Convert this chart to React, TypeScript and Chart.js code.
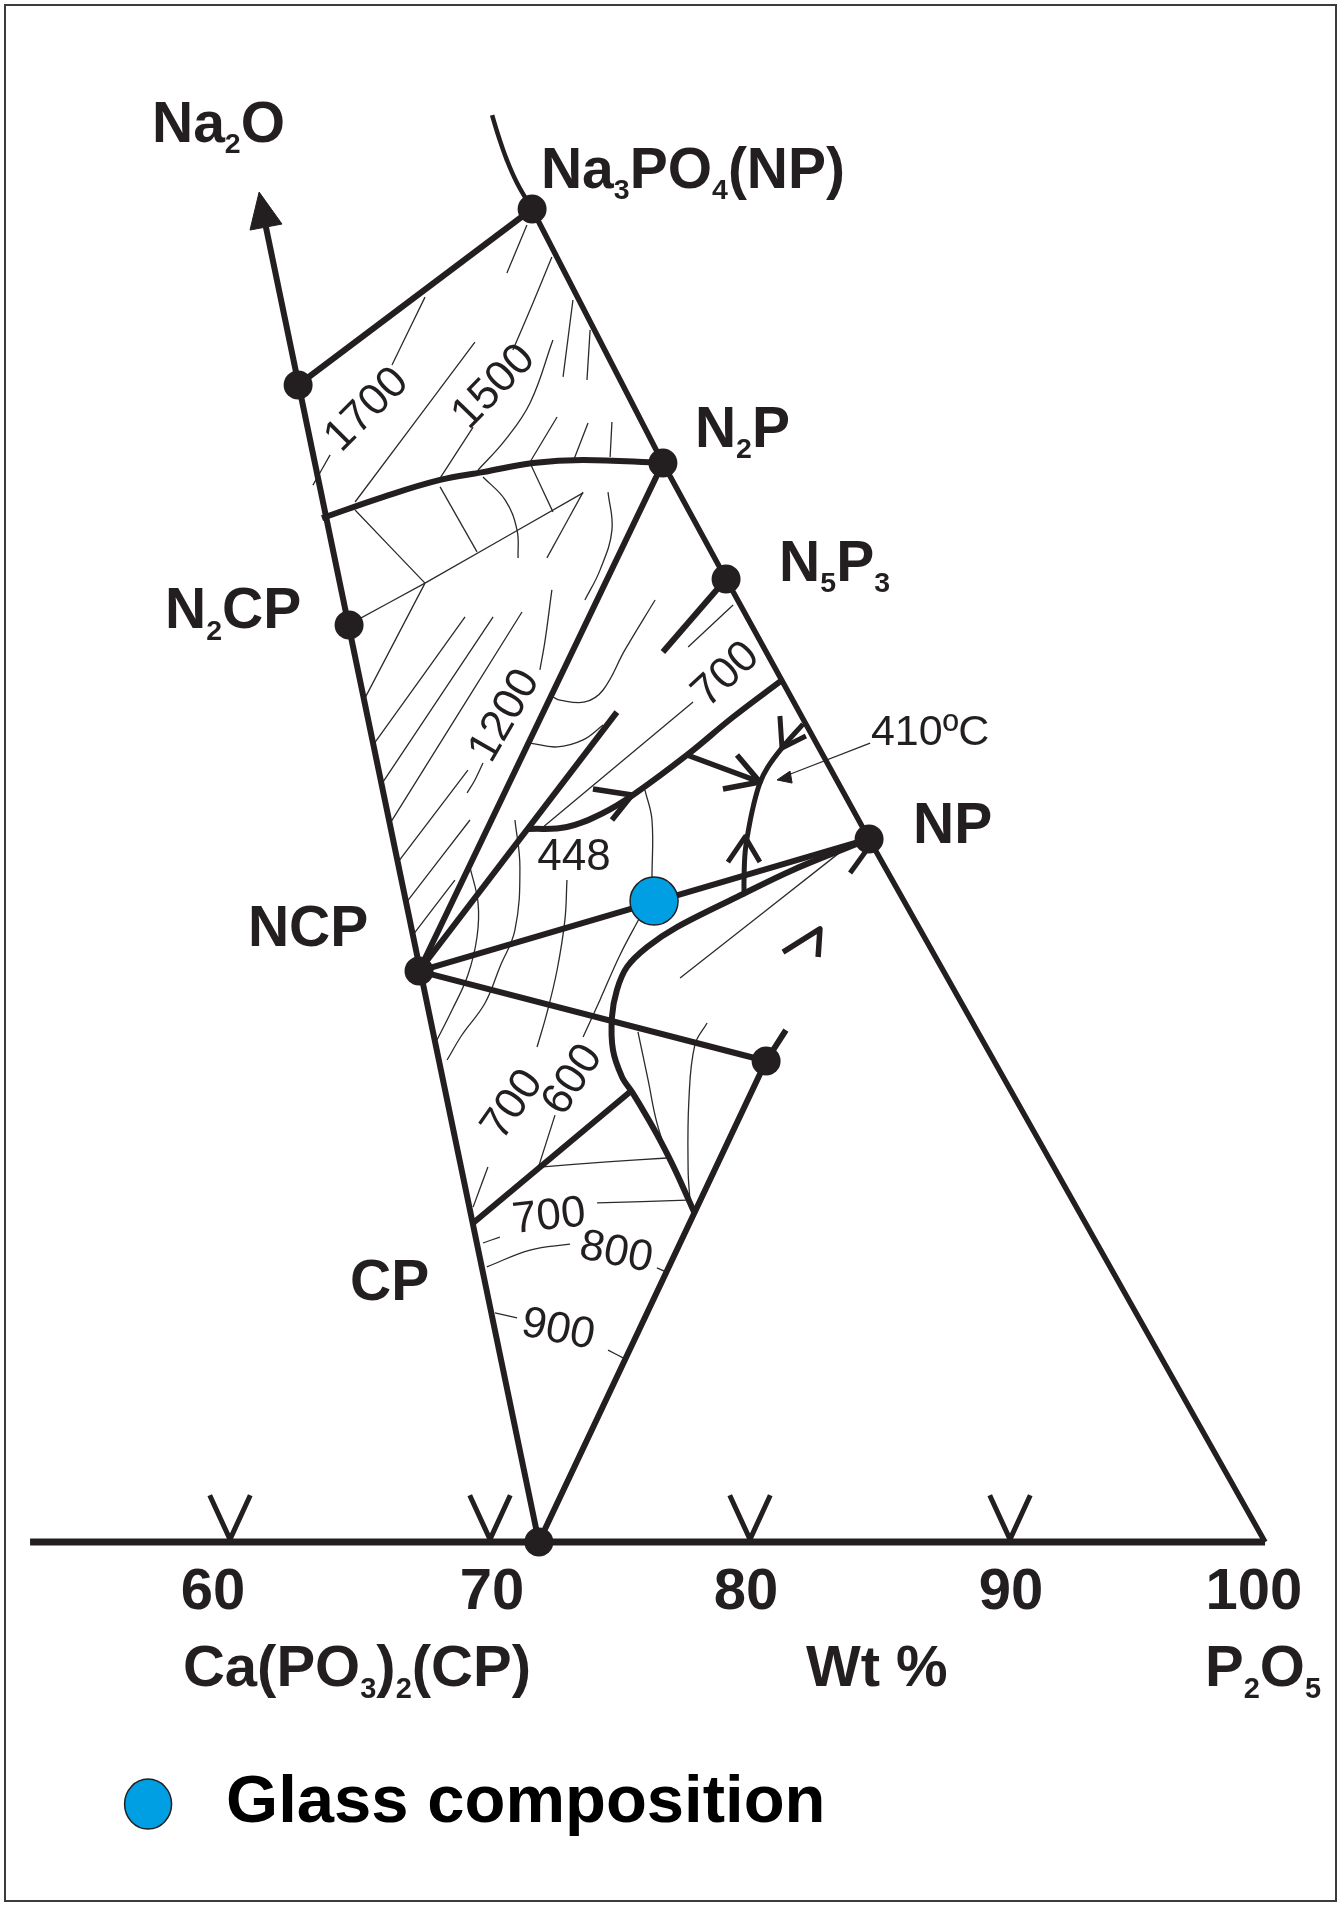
import React, { useEffect, useRef } from "react";
import { Chart, registerables } from "chart.js";

Chart.register(...registerables);

type P = [number, number];

const INK = "#231f20";
const THIN = "#2b2b2b";
const GLASS_BLUE = "#009fe3";
const FONT = '"Liberation Sans", Arial, Helvetica, sans-serif';

// ---- bottom axis: wt % P2O5 ----
const xTicks = [60, 70, 80, 90];
const xTickLabels = ["60", "70", "80", "90", "100"];
const xTickLabelAt = [59.35, 70.08, 79.85, 90.04, 99.38];
const baseLine: P[] = [[52.31, 0], [99.81, 0]];

// ---- compounds (x: wt% P2O5, y: Na2O direction) ----
const compoundPoints: P[] = [
  [71.62, 51.27], // Na3PO4
  [62.62, 44.5],
  [76.65, 41.5], // N2P
  [79.08, 37.04], // N5P3
  [64.58, 35.27], // N2CP
  [67.27, 21.96], // NCP
  [84.58, 27.04], // NP
  [80.62, 18.5],
  [71.88, 0], // CP
];
const glassComposition: P[] = [[76.31, 24.65]];

// ---- thick boundaries ----
const sodaAxis: P[] = [[71.88, 0], [61.38, 50.58]];
const sodaArrow: P[] = [[61.12, 51.92], [62.0, 50.69], [60.77, 50.46], [61.12, 51.92]];
const orthoTie: P[] = [[71.62, 51.27], [62.62, 44.5]];
const orthoLiquidus: P[] = [[70.08, 54.88], [70.35, 54.0], [70.65, 53.15], [71.04, 52.27], [71.62, 51.27]];
const binaryEdge: P[] = [[71.62, 51.27], [76.65, 41.5], [79.08, 37.04], [84.58, 27.04], [99.81, 0]];
const n2pBoundary: P[] = [[76.65, 41.5], [73.58, 41.62], [71.65, 41.5], [69.73, 41.15], [68.08, 40.85], [65.88, 40.19], [63.54, 39.38]];
const n2pNcpJoin: P[] = [[76.65, 41.5], [67.27, 21.96]];
const ncpSpur: P[] = [[67.27, 21.96], [74.88, 31.92]];
const ncpNpJoin: P[] = [[67.27, 21.96], [84.58, 27.04]];
const ncpDJoin: P[] = [[67.27, 21.96], [80.62, 18.5]];
const cpDJoin: P[] = [[71.88, 0], [80.62, 18.5], [81.38, 19.69]];
const eutectic448: P[] = [[71.46, 27.42], [72.96, 27.5], [74.35, 28.04], [75.5, 28.73], [77.58, 30.27], [79.35, 31.73], [81.19, 33.12]];
const arrow448: P[] = [[73.96, 28.96], [75.46, 28.73], [74.69, 27.77]];
const branch448: P[] = [[77.58, 30.27], [80.38, 29.23]];
const arrowBranch: P[] = [[79.5, 30.27], [80.38, 29.23], [78.96, 28.96]];
const curve410: P[] = [[82.04, 31.46], [81.23, 30.54], [80.69, 29.81], [80.38, 29.19], [80.12, 28.27], [79.92, 27.27], [79.81, 26.5], [79.77, 25.46], [79.77, 24.96]];
const arrow410Top: P[] = [[81.15, 31.77], [81.23, 30.54], [82.15, 31.0]];
const arrow410Up: P[] = [[79.15, 26.15], [79.81, 27.12], [80.38, 26.15]];
const sBoundary: P[] = [[84.58, 27.04], [81.65, 25.85], [79.5, 24.81], [77.19, 23.65], [76.04, 22.88], [75.27, 22.12], [74.88, 21.23], [74.69, 20.19], [74.73, 18.92], [75.08, 17.88], [75.46, 17.31], [76.04, 16.35], [76.54, 15.46], [77.12, 14.31], [77.85, 12.69]];
const npTick: P[] = [[83.85, 25.73], [84.46, 26.58]];
const chevronLone: P[] = [[81.27, 22.69], [82.69, 23.58], [82.62, 22.5]];
const cpBoundary: P[] = [[69.35, 12.27], [75.38, 17.31]];
const n5p3Spur: P[] = [[79.08, 37.04], [76.65, 34.23]];
const pointer410: P[] = [[84.62, 30.73], [81.46, 29.5]];
const pointerHead: P[] = [[81.04, 29.31], [81.54, 29.65], [81.62, 29.19], [81.04, 29.31]];

// ---- thin isotherms ----
const isothermsUpper: P[][] = [
  [[70.65, 48.81], [71.42, 50.65]],
  [[66.23, 45.27], [67.5, 47.88]],
  [[63.19, 40.65], [63.85, 41.81]],
  [[64.81, 40.0], [69.42, 46.15]],
  [[68.08, 40.92], [69.35, 42.88]],
  [[70.88, 45.85], [71.62, 47.58], [72.38, 49.42]],
  [[69.54, 41.23], [70.58, 42.38], [71.54, 43.81], [72.42, 46.23]],
  [[71.54, 41.54], [72.58, 43.27]],
  [[72.81, 44.81], [73.19, 47.77]],
  [[73.73, 44.69], [73.85, 46.62]],
  [[73.19, 41.54], [73.77, 43.04]],
  [[74.62, 41.73], [74.69, 43.08]],
];
const isothermsN2CP: P[][] = [
  [[64.81, 39.69], [67.5, 36.88]],
  [[67.5, 36.88], [64.69, 35.35]],
  [[67.5, 36.88], [73.58, 40.35]],
  [[68.08, 40.58], [69.5, 38.08]],
  [[69.73, 40.96], [70.58, 40.08], [71.04, 38.92], [71.08, 37.85]],
  [[71.54, 41.5], [72.42, 39.62]],
  [[73.58, 40.38], [72.19, 37.85]],
  [[74.54, 40.38], [74.69, 38.92], [74.23, 37.38], [73.65, 36.23]],
  [[72.38, 36.62], [72.12, 34.69], [71.92, 33.54]],
  [[69.73, 29.96], [69.42, 29.31], [69.12, 28.81]],
  [[67.5, 36.88], [65.15, 32.38]],
  [[69.04, 35.58], [65.5, 30.65]],
  [[70.12, 35.58], [65.81, 29.12]],
  [[71.23, 35.77], [66.12, 27.58]],
  [[69.15, 29.69], [66.46, 26.15]],
  [[69.23, 27.77], [66.77, 24.58]],
  [[68.65, 25.46], [67.04, 23.35]],
];
const isothermsMiddle: P[][] = [
  [[69.23, 25.96], [69.54, 24.58], [69.5, 23.27], [69.15, 21.81], [68.54, 20.46], [67.96, 19.31]],
  [[70.96, 27.77], [71.15, 25.96], [70.96, 23.54], [70.38, 22.12], [69.81, 20.73], [68.92, 19.5], [68.35, 18.54]],
  [[72.96, 25.46], [72.88, 23.92], [72.58, 22.0], [72.19, 20.35], [71.81, 19.04]],
  [[69.92, 14.42], [69.35, 12.88]],
  [[75.77, 24.04], [75.0, 22.58], [74.23, 20.85], [73.58, 19.42]],
  [[72.5, 16.42], [71.85, 14.38]],
  [[75.96, 28.92], [76.23, 27.77], [76.23, 25.54]],
  [[77.81, 32.31], [72.0, 27.46]],
  [[79.35, 36.04], [77.62, 34.42]],
  [[76.35, 36.23], [75.19, 34.31], [74.35, 32.77], [73.65, 32.31], [72.69, 32.38], [72.42, 32.5]],
  [[74.35, 31.42], [73.58, 30.85], [72.58, 30.58], [71.54, 30.73]],
  [[83.58, 26.62], [77.31, 21.69]],
  [[78.35, 19.96], [77.88, 19.12], [77.65, 17.0], [77.62, 14.31], [77.69, 13.15]],
  [[75.69, 19.62], [76.08, 17.77], [76.42, 16.12], [76.92, 14.58]],
];
const isothermsLower: P[][] = [
  [[71.92, 14.42], [74.5, 14.62], [76.81, 14.77]],
  [[74.12, 13.04], [77.58, 13.15]],
  [[69.73, 11.5], [70.38, 11.73]],
  [[69.88, 10.58], [71.54, 11.23], [73.08, 11.46]],
  [[76.42, 10.54], [76.81, 10.38]],
  [[70.19, 8.81], [71.04, 8.62]],
  [[74.54, 7.38], [75.12, 7.08]],
];

// ---- text ----
const phaseLabels = [
  { text: "Na_2O", x: 57.0, y: 53.85 },
  { text: "Na_3PO_4(NP)", x: 71.96, y: 52.08 },
  { text: "N_2P", x: 77.88, y: 42.12 },
  { text: "N_5P_3", x: 81.12, y: 36.96 },
  { text: "N_2CP", x: 57.5, y: 35.15 },
  { text: "NCP", x: 60.69, y: 22.92 },
  { text: "NP", x: 86.27, y: 26.88 },
  { text: "CP", x: 64.62, y: 9.31 },
];
const axisTitles = [
  { text: "Ca(PO_3)_2(CP)", x: 58.19, y: -5.54 },
  { text: "Wt %", x: 82.15, y: -5.54 },
  { text: "P_2O_5", x: 97.5, y: -5.54 },
];
const isothermLabels = [
  { text: "1700", x: 65.27, y: 43.54, a: -45 },
  { text: "1500", x: 70.15, y: 44.42, a: -46 },
  { text: "1200", x: 70.58, y: 31.77, a: -60 },
  { text: "700", x: 79.08, y: 33.35, a: -43 },
  { text: "448", x: 73.23, y: 26.31, a: 0 },
  { text: "700", x: 70.88, y: 16.81, a: -55 },
  { text: "600", x: 73.19, y: 17.77, a: -57 },
  { text: "700", x: 72.27, y: 12.5, a: -6 },
  { text: "800", x: 74.85, y: 11.12, a: 11 },
  { text: "900", x: 72.62, y: 8.15, a: 11 },
];
const eutecticNote = { text: "410ºC", x: 84.65, y: 30.65 };
const legendEntry = { text: "Glass composition", x: 56.85, y: -10.08 };
const tickLabelY = -2.58;

const X_MIN = 60 - 230 / 26;
const X_MAX = 60 + 1111 / 26;
const Y_MIN = -364 / 26;
const Y_MAX = 1542 / 26;

const toXY = (pts: P[]) => pts.map(([x, y]) => ({ x, y }));

function line(pts: P[], width: number, tension = 0, color = INK) {
  return {
    data: toXY(pts),
    showLine: true,
    borderColor: color,
    backgroundColor: color,
    borderWidth: width,
    pointRadius: 0,
    tension,
    fill: false,
    borderJoinStyle: "round",
    borderCapStyle: "butt",
  } as any;
}
function solid(pts: P[]) {
  return {
    data: toXY(pts),
    showLine: true,
    borderColor: INK,
    backgroundColor: INK,
    borderWidth: 1,
    pointRadius: 0,
    fill: "shape",
  } as any;
}

function drawRich(ctx: CanvasRenderingContext2D, text: string, x: number, y: number, size: number, weight: string, align: "left" | "center" = "left") {
  const segs: { s: string; sub: boolean }[] = [];
  for (let i = 0; i < text.length; i++) {
    const c = text[i];
    if (c === "_" && i + 1 < text.length) {
      segs.push({ s: text[i + 1], sub: true });
      i++;
    } else {
      const last = segs[segs.length - 1];
      if (last && !last.sub) last.s += c;
      else segs.push({ s: c, sub: false });
    }
  }
  ctx.textBaseline = "alphabetic";
  ctx.textAlign = "left";
  let total = 0;
  for (const sg of segs) {
    ctx.font = `${weight} ${sg.sub ? size * 0.5 : size}px ${FONT}`;
    total += ctx.measureText(sg.s).width;
  }
  let cx = align === "center" ? x - total / 2 : x;
  for (const sg of segs) {
    const fs = sg.sub ? size * 0.5 : size;
    ctx.font = `${weight} ${fs}px ${FONT}`;
    ctx.fillText(sg.s, cx, sg.sub ? y + size * 0.2 : y);
    cx += ctx.measureText(sg.s).width;
  }
}

const textPlugin = {
  id: "diagramText",
  afterDatasetsDraw(chart: any) {
    const ctx: CanvasRenderingContext2D = chart.ctx;
    const sx = chart.scales.x;
    const sy = chart.scales.y;
    const px = (v: number) => sx.getPixelForValue(v);
    const py = (v: number) => sy.getPixelForValue(v);
    ctx.save();
    ctx.fillStyle = INK;
    for (const l of phaseLabels) drawRich(ctx, l.text, px(l.x), py(l.y), 57, "bold");
    for (const l of axisTitles) drawRich(ctx, l.text, px(l.x), py(l.y), 58, "bold");
    xTickLabels.forEach((t, i) => drawRich(ctx, t, px(xTickLabelAt[i]), py(tickLabelY), 58, "bold", "center"));
    for (const l of isothermLabels) {
      ctx.save();
      ctx.translate(px(l.x), py(l.y));
      ctx.rotate((l.a * Math.PI) / 180);
      ctx.font = `normal 44px ${FONT}`;
      ctx.textAlign = "center";
      ctx.textBaseline = "middle";
      ctx.fillText(l.text, 0, 0);
      ctx.restore();
    }
    drawRich(ctx, eutecticNote.text, px(eutecticNote.x), py(eutecticNote.y), 43, "normal");
    // legend
    const lx = px(legendEntry.x);
    const ly = py(legendEntry.y);
    ctx.beginPath();
    ctx.ellipse(lx, ly, 23.5, 25, 0, 0, Math.PI * 2);
    ctx.fillStyle = GLASS_BLUE;
    ctx.fill();
    ctx.lineWidth = 1.5;
    ctx.strokeStyle = INK;
    ctx.stroke();
    ctx.fillStyle = "#000";
    drawRich(ctx, legendEntry.text, lx + 78, ly + 18, 67, "bold");
    ctx.restore();
  },
};

export default function App() {
  const ref = useRef<HTMLCanvasElement | null>(null);
  useEffect(() => {
    if (!ref.current) return;
    const vTicks = xTicks.map((t) => line([[t - 0.78, 1.8], [t, 0.1], [t + 0.78, 1.8]], 5));
    const datasets: any[] = [
      {
        data: toXY(glassComposition),
        showLine: false,
        pointRadius: 24,
        pointBackgroundColor: GLASS_BLUE,
        pointBorderColor: INK,
        pointBorderWidth: 1.5,
      },
      {
        data: toXY(compoundPoints),
        showLine: false,
        pointRadius: 14.5,
        pointBackgroundColor: INK,
        pointBorderWidth: 0,
      },
      solid(sodaArrow),
      solid(pointerHead),
      line(sodaAxis, 6),
      line(orthoTie, 6),
      line(orthoLiquidus, 4.5, 0.4),
      line(binaryEdge, 5.5),
      line(n2pBoundary, 6, 0.4),
      line(n2pNcpJoin, 6),
      line(ncpSpur, 6),
      line(ncpNpJoin, 6),
      line(ncpDJoin, 6),
      line(cpDJoin, 6),
      line(eutectic448, 6, 0.4),
      line(arrow448, 5.5),
      line(branch448, 5.5),
      line(arrowBranch, 5.5),
      line(curve410, 5, 0.4),
      line(arrow410Top, 5),
      line(arrow410Up, 5),
      line(sBoundary, 6, 0.35),
      line(npTick, 5),
      line(chevronLone, 5.5),
      line(cpBoundary, 6),
      line(n5p3Spur, 6),
      line(baseLine, 7),
      ...vTicks,
      line(pointer410, 1.3, 0, THIN),
      ...isothermsUpper.map((p) => line(p, 1.3, 0.4, THIN)),
      ...isothermsN2CP.map((p) => line(p, 1.3, 0.4, THIN)),
      ...isothermsMiddle.map((p) => line(p, 1.3, 0.4, THIN)),
      ...isothermsLower.map((p) => line(p, 1.3, 0.4, THIN)),
    ];
    const chart = new Chart(ref.current, {
      type: "scatter",
      data: { datasets },
      options: {
        animation: false,
        responsive: false,
        maintainAspectRatio: false,
        devicePixelRatio: 1,
        events: [],
        layout: { padding: 0, autoPadding: false },
        scales: {
          x: { type: "linear", min: X_MIN, max: X_MAX, display: false },
          y: { type: "linear", min: Y_MIN, max: Y_MAX, display: false },
        },
        plugins: { legend: { display: false }, tooltip: { enabled: false } },
      },
      plugins: [textPlugin],
    } as any);
    return () => chart.destroy();
  }, []);
  return (
    <div style={{ position: "absolute", left: 0, top: 0, width: 1341, height: 1906, background: "#fff" }}>
      <canvas ref={ref} width={1341} height={1906} style={{ display: "block", width: 1341, height: 1906 }} />
      <div
        style={{
          position: "absolute",
          left: 4,
          top: 4,
          width: 1333,
          height: 1898,
          border: "2px solid #3c3c3c",
          boxSizing: "border-box",
          pointerEvents: "none",
        }}
      />
    </div>
  );
}
